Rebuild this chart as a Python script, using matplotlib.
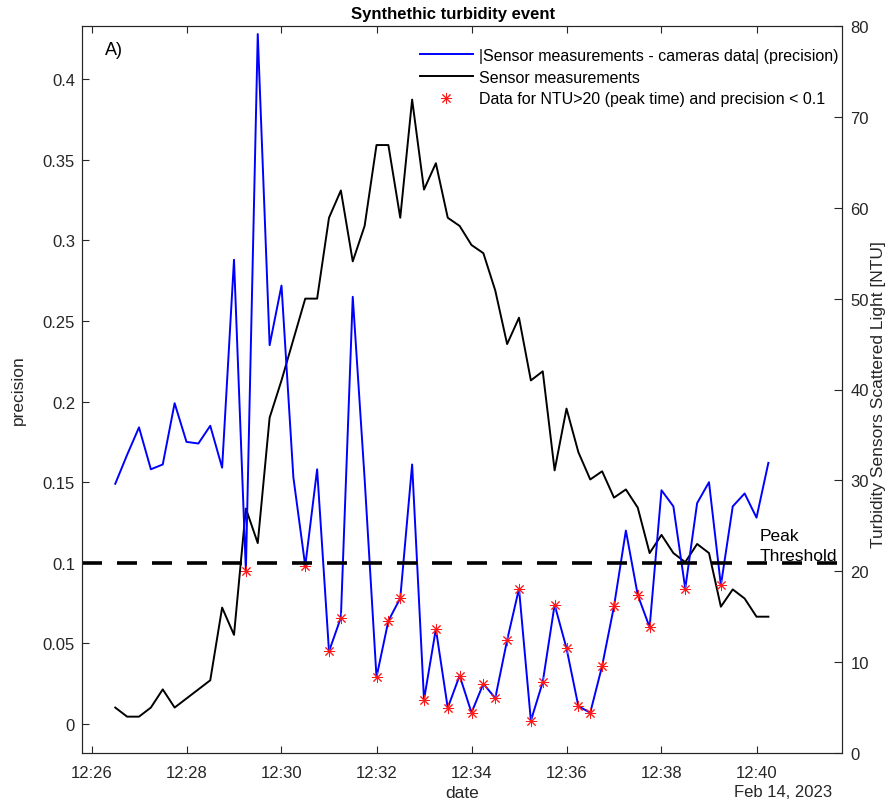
import matplotlib
matplotlib.use('Agg')
import matplotlib.pyplot as plt
import matplotlib.dates as mdates
import matplotlib.transforms as mtransforms
from matplotlib.ticker import FormatStrFormatter
import numpy as np
import pandas as pd

plt.rcParams['font.family'] = ['Liberation Sans', 'DejaVu Sans']

# samples every 15 s, from 12:26:30 to 12:40:15
times = pd.date_range('2023-02-14 12:26:30', periods=56, freq='15s')

precision = [0.149, 0.167, 0.184, 0.158, 0.161, 0.199, 0.175, 0.174, 0.185, 0.159,
             0.288, 0.095, 0.428, 0.235, 0.272, 0.153, 0.098, 0.158, 0.045, 0.066,
             0.265, 0.152, 0.029, 0.064, 0.078, 0.161, 0.015, 0.059, 0.010, 0.030,
             0.007, 0.025, 0.016, 0.052, 0.084, 0.002, 0.026, 0.074, 0.047, 0.011,
             0.007, 0.036, 0.073, 0.120, 0.080, 0.060, 0.145, 0.135, 0.084, 0.137,
             0.150, 0.086, 0.135, 0.143, 0.128, 0.162]

ntu = [5.0, 4.0, 4.0, 5.0, 7.0, 5.0, 6.0, 7.0, 8.0, 16.0,
       13.0, 26.9, 23.1, 36.9, 41.0, 45.5, 50.0, 50.0, 58.9, 61.9,
       54.1, 58.0, 66.9, 66.9, 58.9, 71.9, 62.0, 64.9, 58.9, 58.0,
       55.9, 55.0, 50.9, 45.0, 47.9, 41.0, 42.0, 31.1, 37.9, 33.1,
       30.1, 31.0, 28.1, 29.0, 27.0, 22.0, 24.0, 22.0, 21.0, 23.0,
       22.0, 16.1, 18.0, 17.0, 15.0, 15.0]

threshold = 0.1
prec = np.array(precision)
mask = prec < threshold

axcol = '#262626'

fig = plt.figure(figsize=(8.9, 8.03), dpi=100)
ax = fig.add_axes([82/890, 1 - 754/803, 760/890, 727/803])
ax2 = ax.twinx()

l2, = ax2.plot(times, ntu, color='black', lw=1.4, label='Sensor measurements')
l1, = ax.plot(times, precision, color='blue', lw=1.4,
              label='|Sensor measurements - cameras data| (precision)')
l3, = ax.plot(times[mask], prec[mask], ls='none', marker=(8, 2, 0), ms=8,
              mew=0.7, color='#ff1a1a',
              label='Data for NTU>20 (peak time) and precision < 0.1')
ax.axhline(threshold, color='black', lw=2.6, ls=(0, (14.4/2.6, 10.8/2.6)))

ax.set_zorder(ax2.get_zorder() + 1)
ax.patch.set_visible(False)

ax.set_xlim(pd.Timestamp('2023-02-14 12:25:48'), pd.Timestamp('2023-02-14 12:41:48'))
ax.set_ylim(-0.018, 0.433)
ax2.set_ylim(0, 80)
ax.set_yticks(np.arange(0, 0.41, 0.05))
ax.yaxis.set_major_formatter(FormatStrFormatter('%g'))
ax2.set_yticks(np.arange(0, 81, 10))
ax.xaxis.set_major_locator(mdates.MinuteLocator(byminute=range(0, 60, 2)))
ax.xaxis.set_major_formatter(mdates.DateFormatter('%H:%M'))

for a in (ax, ax2):
    for s in a.spines.values():
        s.set_color(axcol)
        s.set_linewidth(0.8)
ax.tick_params(axis='x', direction='in', top=True, length=5, width=0.8,
               color=axcol, labelcolor=axcol, labelsize=12, pad=9)
ax.tick_params(axis='y', direction='in', length=5, width=0.8,
               color=axcol, labelcolor=axcol, labelsize=12, pad=5)
ax2.tick_params(axis='y', direction='in', length=5.5, width=0.8,
                color=axcol, labelcolor=axcol, labelsize=12, pad=6)

ax.legend(handles=[l1, l2, l3], loc='upper right', frameon=False, fontsize=11.5,
          handlelength=3.3, handletextpad=0.4, labelspacing=0.42,
          bbox_to_anchor=(1.008, 0.983), borderaxespad=0.2)

ax.text(0.030, 0.968, 'A)', transform=ax.transAxes, fontsize=13,
        va='center', ha='left')
trans = mtransforms.blended_transform_factory(ax.transAxes, ax.transData)
ax.text(0.892, threshold, 'Peak\nThreshold', transform=trans, fontsize=12.5,
        va='bottom', ha='left', color='black', linespacing=1.4)

fig.text(453/890, 1 - 14/803, 'Synthethic turbidity event', ha='center',
         va='center', fontsize=12, fontweight='bold')
fig.text(18/890, 1 - 390/803, 'precision', rotation=90, ha='center',
         va='center', fontsize=12.5, color=axcol)
fig.text(879/890, 1 - 395/803, 'Turbidity Sensors Scattered Light [NTU]',
         rotation=90, ha='center', va='center', fontsize=12.5, color=axcol)
fig.text(462/890, 1 - 794/803, 'date', ha='center', va='center',
         fontsize=12.5, color=axcol)
fig.text(832/890, 1 - 793/803, 'Feb 14, 2023', ha='right', va='center',
         fontsize=12, color=axcol)

fig.savefig('out.png', dpi=100)
